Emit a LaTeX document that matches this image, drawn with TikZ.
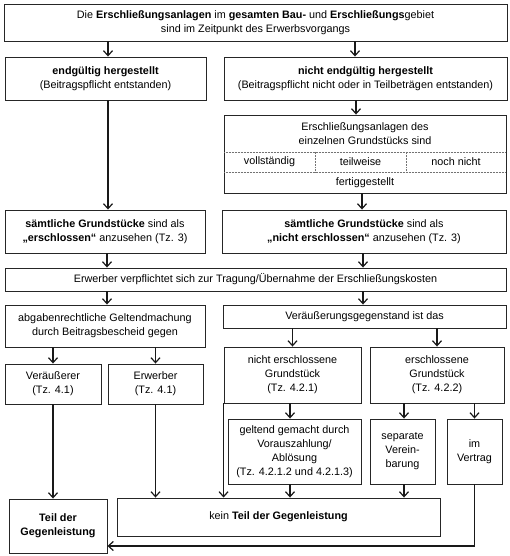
\documentclass[tikz,border=0pt]{standalone}
\usepackage{fontspec}
\setmainfont{Liberation Sans}
\usetikzlibrary{arrows.meta,calc}
\begin{document}
\begin{tikzpicture}[x=1pt,y=-1pt,
  box/.style={draw=black!85,line width=0.9pt,inner sep=0pt,align=center,font=\fontsize{10.8}{14}\selectfont},
  arr/.style={draw=black!90,line width=1.2pt,-{Straight Barb[length=5pt,width=9pt,line width=1.2pt]}},
  divider/.style={draw=black!55,line width=0.5pt,densely dotted},
  cell/.style={inner sep=0pt,align=center,font=\fontsize{10.8}{14}\selectfont}]
\fill[white] (0,0) rectangle (510,556);
\useasboundingbox (0,0) rectangle (510,556);
% boxes
\node[box,minimum width=503pt,minimum height=37pt] (top) at (255.5,22.5)
  {Die \textbf{Erschließungsanlagen} im \textbf{gesamten Bau-} und \textbf{Erschließungs}gebiet\\sind im Zeitpunkt des Erwerbsvorgangs};
\node[box,minimum width=201pt,minimum height=43pt] (endg) at (105.5,78.5)
  {\textbf{endgültig hergestellt}\\(Beitragspflicht entstanden)};
\node[box,minimum width=283pt,minimum height=43pt] (nendg) at (365.5,78.5)
  {\textbf{nicht endgültig hergestellt}\\(Beitragspflicht nicht oder in Teilbeträgen entstanden)};
\node[box,minimum width=282pt,minimum height=78pt] (eb) at (365,154) {};
\draw[divider] (224,152) -- (506,152);
\draw[divider] (224,172) -- (506,172);
\draw[divider] (315,152) -- (315,172);
\draw[divider] (406,152) -- (406,172);
\node[cell] (ebt) at (365,133.5) {Erschließungsanlagen des\\einzelnen Grundstücks sind};
\node[cell] (c1) at (269.5,162) {vollständig};
\node[cell] (c2) at (360.5,162) {teilweise};
\node[cell] (c3) at (456,162) {noch nicht};
\node[cell] (c4) at (365,182.5) {fertiggestellt};
\node[box,minimum width=200pt,minimum height=43pt] (s1) at (105,231.5)
  {\textbf{sämtliche Grundstücke} sind als\\\textbf{„erschlossen“} anzusehen (Tz. 3)};
\node[box,minimum width=284pt,minimum height=43pt] (s2) at (364,231.5)
  {\textbf{sämtliche Grundstücke} sind als\\\textbf{„nicht erschlossen“} anzusehen (Tz. 3)};
\node[box,minimum width=501pt,minimum height=23pt] (ev) at (255.5,279.5)
  {Erwerber verpflichtet sich zur Tragung/Übernahme der Erschließungskosten};
\node[box,minimum width=200pt,minimum height=42pt] (ab) at (105,326)
  {abgabenrechtliche Geltendmachung\\durch Beitragsbescheid gegen};
\node[box,minimum width=283pt,minimum height=23pt] (vg) at (364.5,316.5)
  {Veräußerungsgegenstand ist das};
\node[box,minimum width=96pt,minimum height=40pt] (ver) at (53,384)
  {Veräußerer\\(Tz. 4.1)};
\node[box,minimum width=95pt,minimum height=40pt] (erw) at (155.5,384)
  {Erwerber\\(Tz. 4.1)};
\node[box,minimum width=137pt,minimum height=56pt] (ne) at (292.5,375)
  {nicht erschlossene\\Grundstück\\(Tz. 4.2.1)};
\node[box,minimum width=134pt,minimum height=56pt] (er) at (437,375)
  {erschlossene\\Grundstück\\(Tz. 4.2.2)};
\node[box,minimum width=133pt,minimum height=65pt] (gg) at (294.5,451.5)
  {geltend gemacht durch\\Vorauszahlung/\\Ablösung\\(Tz. 4.2.1.2 und 4.2.1.3)};
\node[box,minimum width=65pt,minimum height=65pt] (sv) at (402.5,451.5)
  {separate\\Verein-\\barung};
\node[box,minimum width=55pt,minimum height=65pt] (iv) at (474.5,451.5)
  {im\\Vertrag};
\node[box,minimum width=98pt,minimum height=54pt] (tg) at (58,526)
  {\textbf{Teil der}\\\textbf{Gegenleistung}};
\node[box,minimum width=323pt,minimum height=38pt] (kt) at (278.5,517)
  {kein \textbf{Teil der Gegenleistung}};
% helper coordinates
\coordinate (a1) at ([xshift=2.5pt]endg.north);
\coordinate (a2) at ([xshift=-10.5pt]nendg.north);
\coordinate (a3) at ([xshift=-9.5pt]nendg.south);
\coordinate (a4) at ([xshift=-3pt]eb.south);
\coordinate (a5) at ([xshift=2pt]s1.south);
\coordinate (a6) at ([xshift=-1pt]s2.south);
\coordinate (a7) at ([xshift=2pt]ab.north);
\coordinate (a8) at ([xshift=-1.5pt]vg.north);
\coordinate (a9) at ([xshift=-4.5pt]gg.south);
\coordinate (a10) at ([xshift=1.5pt]sv.south);
\coordinate (a11) at (iv.south |- 0,546);
% connectors
\draw[arr] (top.south -| a1) -- (a1);
\draw[arr] (top.south -| a2) -- (a2);
\draw[arr] (a1 |- endg.south) -- (a1 |- s1.north);
\draw[arr] (a3) -- (a3 |- eb.north);
\draw[arr] (a4) -- (a4 |- s2.north);
\draw[arr] (a5) -- (a5 |- ev.north);
\draw[arr] (a6) -- (a6 |- ev.north);
\draw[arr] (ev.south -| a7) -- (a7);
\draw[arr] (ev.south -| a8) -- (a8);
\draw[arr] (ab.south -| ver.north) -- (ver.north);
\draw[arr] (ab.south -| erw.north) -- (erw.north);
\draw[arr] (vg.south -| ne.north) -- (ne.north);
\draw[arr] (vg.south -| er.north) -- (er.north);
\draw[arr] (ver.south) -- (ver.south |- tg.north);
\draw[arr] (erw.south) -- (erw.south |- kt.north);
\draw[arr] (ne.south west) -- (ne.south west |- kt.north);
\draw[arr] (ne.south -| a9) -- (a9 |- gg.north);
\draw[arr] (a9) -- (a9 |- kt.north);
\draw[arr] (er.south -| a10) -- (a10 |- sv.north);
\draw[arr] (er.south -| iv.north) -- (iv.north);
\draw[arr] (a10) -- (a10 |- kt.north);
\draw[arr] (iv.south) -- (a11) -- (a11 -| tg.east);
\end{tikzpicture}
\end{document}
